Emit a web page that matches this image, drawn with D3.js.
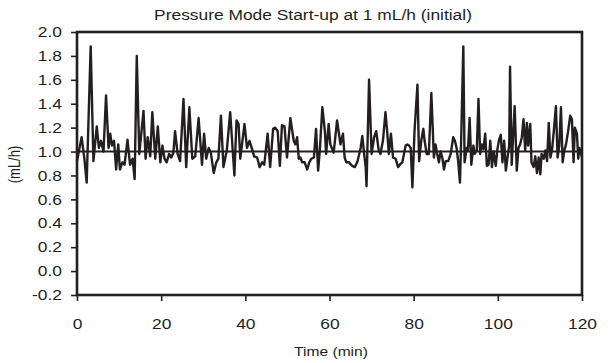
<!DOCTYPE html>
<html><head><meta charset="utf-8">
<script src="https://cdn.jsdelivr.net/npm/d3@7"></script>
<style>
body{margin:0;background:#fff}
svg{display:block}
text{font-family:"Liberation Sans",Arial,sans-serif;fill:#231f20}
</style>
</head><body><svg id="c" width="609" height="363"></svg>
<script>
const chartTitle = "Pressure Mode Start-up at 1 mL/h (initial)";
const xTitle = "Time (min)";
const yTitle = "(mL/h)";
const xTicks = [0, 20, 40, 60, 80, 100, 120];
const yTicks = [-0.2, 0.0, 0.2, 0.4, 0.6, 0.8, 1.0, 1.2, 1.4, 1.6, 1.8, 2.0];
const targetRate = 1.0;
const timeMin = [0,1.1,1.75,2.3,3.25,3.9,4.7,5.2,5.7,6.3,6.9,7.5,7.9,8.3,8.8,9.3,9.8,10.2,10.8,11.3,12.0,12.6,13.2,13.7,14.2,14.8,15.8,16.3,16.8,17.4,17.9,18.6,19.2,19.8,20.3,20.8,21.3,21.9,22.4,22.9,23.3,23.9,24.5,25.3,25.95,26.7,27.4,28.1,28.9,29.7,30.2,30.7,31.3,31.8,32.5,33.1,33.6,34.2,34.8,35.6,36.4,37.4,37.9,38.4,38.8,39.8,40.4,41.0,41.6,42.1,42.8,43.4,44.0,44.5,45.3,45.9,46.6,47.1,47.7,48.2,48.7,49.3,49.9,50.7,51.5,51.9,52.3,52.7,53.1,53.5,54.1,54.7,55.2,55.7,56.3,56.8,57.3,57.7,58.3,58.9,59.2,59.8,60.2,61.0,61.8,62.6,63.2,63.6,64.0,64.6,65.4,66.0,66.6,67.4,67.8,68.2,68.6,68.8,69.4,70.0,70.6,71.1,71.7,72.1,72.7,73.3,73.7,74.1,74.6,75.1,75.7,76.3,76.7,77.3,77.7,78.1,78.5,78.9,79.3,79.7,80.2,80.9,81.3,81.8,82.3,82.6,83.1,83.6,84.2,84.8,85.2,85.6,86.0,86.4,86.8,87.2,87.6,88.2,88.8,89.4,89.8,90.2,90.6,91.0,91.3,91.8,92.1,92.6,92.9,93.3,93.7,94.2,94.5,95.0,95.4,95.8,96.2,96.6,97.0,97.4,97.8,98.2,98.6,99.0,99.5,99.9,100.3,100.7,101.1,101.5,101.9,102.3,102.7,102.9,103.3,103.7,104.0,104.5,104.9,105.3,105.7,106.1,106.5,106.9,107.2,107.7,108.0,108.5,108.9,109.3,109.7,110.1,110.4,110.9,111.3,111.7,112.1,112.5,112.9,113.3,113.8,114.2,114.6,115.0,115.4,115.8,116.2,116.7,117.2,117.6,118.0,118.3,118.8,119.1,119.4,120.0];
const flowRate = [0.92,1.12,0.94,0.74,1.88,0.92,1.21,1.03,1.09,1.0,1.47,1.03,1.15,1.05,1.09,0.85,1.06,0.85,0.91,0.89,1.10,0.89,0.94,0.77,1.80,0.98,1.34,0.94,1.12,0.96,1.33,0.94,1.21,0.91,1.05,0.94,0.91,0.98,0.95,0.99,1.17,0.98,0.92,1.44,0.87,1.37,0.94,0.96,1.28,0.89,1.15,0.94,1.03,0.99,0.82,0.91,0.94,1.30,0.87,1.01,1.33,0.80,1.26,1.23,0.94,1.23,1.03,1.09,1.02,0.96,0.95,0.87,0.91,0.89,1.15,0.87,1.19,1.20,1.17,0.88,1.22,1.21,0.95,1.28,1.09,1.06,1.12,0.94,0.95,0.91,0.91,0.85,0.91,0.94,0.95,1.19,0.84,1.01,1.37,1.17,0.98,1.23,1.06,0.99,1.26,1.06,1.15,0.95,0.91,0.91,0.88,0.87,0.91,1.03,1.13,0.99,0.87,0.71,1.60,0.98,1.12,1.17,1.01,0.98,1.09,1.33,1.17,0.98,1.15,0.95,0.94,0.87,0.89,0.91,0.98,1.05,1.06,1.05,1.03,0.70,1.17,1.56,0.92,1.09,1.19,1.09,0.98,0.98,1.49,0.95,1.06,0.98,0.91,1.00,0.95,0.85,0.92,0.92,0.98,1.12,1.09,1.03,0.91,0.74,1.12,1.88,0.91,1.03,1.01,1.28,0.89,1.05,0.98,1.01,1.44,0.98,1.06,1.02,1.15,0.88,0.89,1.09,0.87,1.00,0.88,1.02,1.10,1.14,0.91,1.09,0.84,0.95,1.05,1.71,0.89,1.17,1.38,0.84,1.03,1.06,1.12,1.27,1.01,1.24,1.05,1.23,0.91,0.87,0.96,0.82,0.95,0.81,0.98,0.94,1.01,0.92,1.24,0.95,1.02,1.17,1.38,0.95,1.05,1.37,0.91,1.01,1.06,1.17,1.30,1.27,0.91,1.20,1.15,0.94,1.03,0.95];

const ink = "#231f20";
const sx = 1.2; // horizontal stretch of the original artwork's text
const svg = d3.select("#c");
const L = 77, R = 582, T = 32, B = 295;
const x = d3.scaleLinear().domain([0, 120]).range([L, R]);
const y = d3.scaleLinear().domain([-0.2, 2.0]).range([B, T]);

// axes
const gy = svg.append("g").attr("transform", `translate(${L},0)`)
  .call(d3.axisLeft(y).tickValues(yTicks).tickSize(6).tickPadding(9).tickFormat(d => d.toFixed(1)));
const gx = svg.append("g").attr("transform", `translate(0,${B})`)
  .call(d3.axisBottom(x).tickValues(xTicks).tickSize(6).tickPadding(18).tickFormat(d => String(d)));
[gy, gx].forEach(g => {
  g.select(".domain").remove();
  g.selectAll(".tick line").attr("stroke", ink).attr("stroke-width", 1.6);
  g.selectAll(".tick text").attr("fill", ink).attr("font-size", 14.5)
    .attr("font-family", '"Liberation Sans", Arial, sans-serif');
});
gy.selectAll(".tick text").each(function () {
  const t = d3.select(this);
  const xx = +t.attr("x");
  t.attr("x", xx / sx).attr("transform", `scale(${sx},1)`);
});
gx.selectAll(".tick text").attr("transform", `scale(${sx},1)`);

// reference line at target
svg.append("line")
  .attr("x1", x(0)).attr("x2", x(120))
  .attr("y1", y(targetRate)).attr("y2", y(targetRate))
  .attr("stroke", ink).attr("stroke-width", 2);

// data line
const pts = timeMin.map((t, i) => [t, flowRate[i]]);
svg.append("path").datum(pts)
  .attr("fill", "none").attr("stroke", ink).attr("stroke-width", 2.4)
  .attr("stroke-linejoin", "round")
  .attr("d", d3.line().x(d => x(d[0])).y(d => y(d[1])));

// frame
svg.append("rect").attr("x", L).attr("y", T).attr("width", R - L).attr("height", B - T)
  .attr("fill", "none").attr("stroke", ink).attr("stroke-width", 2.6);

// titles
svg.append("g").attr("transform", `translate(313,20) scale(${sx},1)`)
  .append("text").attr("text-anchor", "middle").attr("font-size", 14.5).text(chartTitle);
svg.append("g").attr("transform", `translate(331,356) scale(${sx},1)`)
  .append("text").attr("text-anchor", "middle").attr("font-size", 13).text(xTitle);
svg.append("g").attr("transform", `translate(20,${(T + B) / 2 + 1}) scale(${sx},1) rotate(-90)`)
  .append("text").attr("text-anchor", "middle").attr("font-size", 13).text(yTitle);
</script></body></html>
